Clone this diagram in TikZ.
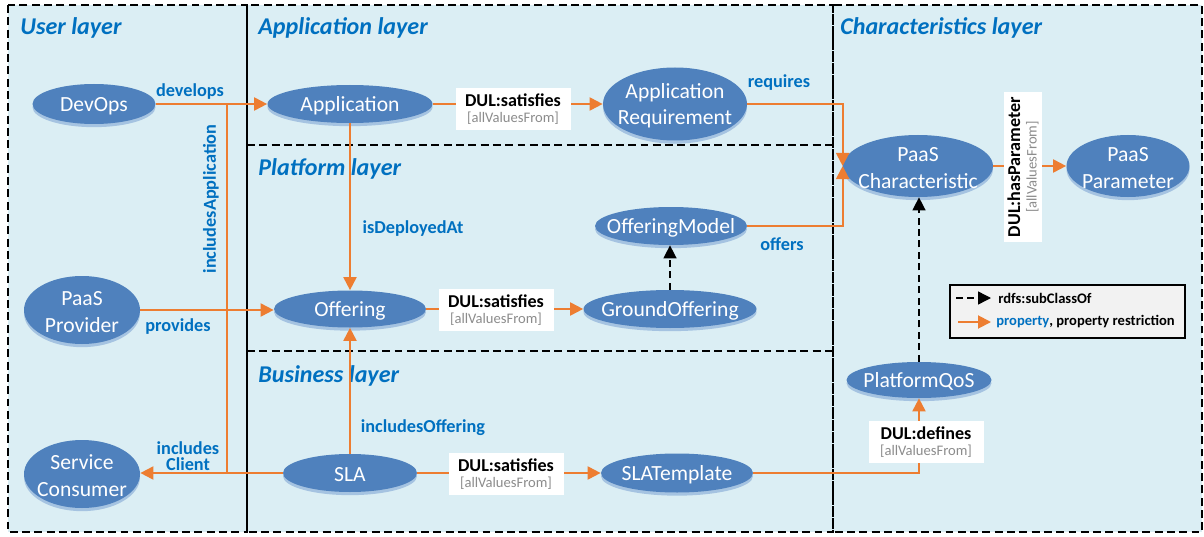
\documentclass[tikz,border=0pt]{standalone}
\usepackage{fontspec}
\setmainfont{Carlito}
\usetikzlibrary{arrows.meta,shapes.geometric,shadows}
\definecolor{bgblue}{RGB}{219,238,244}
\definecolor{nodeblue}{RGB}{79,129,189}
\definecolor{shblue}{RGB}{165,195,225}
\definecolor{lblblue}{RGB}{0,112,192}
\definecolor{orng}{RGB}{237,125,49}
\definecolor{gtext}{RGB}{140,140,140}
\definecolor{legbg}{RGB}{242,242,242}
\newcommand{\rlab}[1]{{\bfseries\fontsize{10.3}{11}\selectfont #1}\\[-2.5pt]{\fontsize{8.3}{9}\selectfont\color{gtext}[allValuesFrom]}}
\begin{document}
\begin{tikzpicture}[x=0.02cm,y=-0.02cm,
  cls/.style={ellipse, fill=nodeblue, inner sep=0pt,
    drop shadow={shadow xshift=0pt, shadow yshift=-1.8pt, fill=shblue, opacity=1}},
  ctext/.style={text=white, align=center, inner sep=0pt, yshift=-1pt, font=\fontsize{12.3}{15.3}\selectfont},
  prop/.style={draw=orng, line width=1.1pt, -{Triangle[length=7.4pt,width=7.4pt]}},
  propline/.style={draw=orng, line width=1.1pt},
  sub/.style={draw=black, line width=0.8pt, dash pattern=on 4pt off 2.5pt, -{Triangle[length=7.4pt,width=7.4pt]}},
  rel/.style={text=lblblue, inner sep=0pt, align=center, font=\bfseries\fontsize{10.4}{9.2}\selectfont},
  rbox/.style={fill=white, inner sep=0pt, minimum width=115*0.02cm, minimum height=42*0.02cm, align=center},
  ttl/.style={anchor=west, inner sep=0pt, text=lblblue, font=\bfseries\itshape\fontsize{13.7}{16}\selectfont},
  region/.style={draw=black, line width=0.7pt, dash pattern=on 4.5pt off 2.5pt},
  legtext/.style={anchor=west, inner sep=0pt, font=\bfseries\fontsize{8.3}{10}\selectfont}
]
\useasboundingbox (0,0) rectangle (1204,537);
% background and regions
\fill[bgblue] (8,5) rectangle (1202,532);
\draw[region] (8,5) rectangle (247,532);
\draw[region] (247,5) rectangle (833,532);
\draw[region] (833,5) rectangle (1202,532);
\draw[region] (247,145) -- (833,145);
\draw[region] (247,351) -- (833,351);
% titles
\node[ttl] (tuser) at (20,28) {User layer};
\node[ttl] (tapp) at (258,28) {Application layer};
\node[ttl] (tplat) at (258,169) {Platform layer};
\node[ttl] (tbus) at (258,376) {Business layer};
\node[ttl] (tchar) at (840,28) {Characteristics layer};
% nodes
\node[cls, minimum width=123*0.02cm, minimum height=40*0.02cm, label={[ctext]center:DevOps}] (devops) at (94,104) {};
\node[cls, minimum width=116*0.02cm, minimum height=68*0.02cm, label={[ctext]center:PaaS\\Provider}] (prov) at (82,310) {};
\node[cls, minimum width=116*0.02cm, minimum height=68*0.02cm, label={[ctext]center:Service\\Consumer}] (sc) at (82,474) {};
\node[cls, minimum width=165*0.02cm, minimum height=38*0.02cm, label={[ctext]center:Application}] (app) at (350,104) {};
\node[cls, minimum width=144*0.02cm, minimum height=73*0.02cm, label={[ctext]center:Application\\Requirement}] (appreq) at (675,104) {};
\node[cls, minimum width=152*0.02cm, minimum height=37*0.02cm, label={[ctext]center:Offering}] (off) at (350,309) {};
\node[cls, minimum width=152*0.02cm, minimum height=38*0.02cm, label={[ctext]center:OfferingModel}] (om) at (671,226) {};
\node[cls, minimum width=173*0.02cm, minimum height=38*0.02cm, label={[ctext]center:GroundOffering}] (go) at (670,309) {};
\node[cls, minimum width=134*0.02cm, minimum height=38*0.02cm, label={[ctext]center:SLA}] (sla) at (350,473) {};
\node[cls, minimum width=152*0.02cm, minimum height=39*0.02cm, label={[ctext]center:SLATemplate}] (slat) at (677,473) {};
\node[cls, minimum width=150*0.02cm, minimum height=62*0.02cm, label={[ctext]center:PaaS\\Characteristic}] (pc) at (918,166) {};
\node[cls, minimum width=123*0.02cm, minimum height=62*0.02cm, label={[ctext]center:PaaS\\Parameter}] (ppar) at (1128,166) {};
\node[cls, minimum width=145*0.02cm, minimum height=36*0.02cm, label={[ctext]center:PlatformQoS}] (qos) at (919,380) {};
% junctions
\coordinate (j1) at (227,473);
\coordinate (j2) at (227,104);
% connectors
\draw[prop] (devops.east) -- (app.west);
\draw[propline] (j1) -- (j2);
\draw[prop] (prov.east) -- (prov.east -| off.west);
\draw[prop] (sla.west) -- (sla.west -| sc.east);
\draw[prop] (app.east) -- (appreq.west);
\draw[prop] (app.south) -- (off.north);
\draw[prop] (off.east) -- (go.west);
\draw[sub] (go.north) -- (go.north |- om.south);
\draw[prop] (om.east) -| (pc.west);
\draw[prop] (appreq.east) -| (pc.west);
\draw[prop] (pc.east) -- (ppar.west);
\draw[sub] (qos.north) -- (qos.north |- pc.south);
\draw[prop] (sla.north) -- (off.south);
\draw[prop] (sla.east) -- (slat.west);
\draw[prop] (slat.east) -| (qos.south);
% relation labels
\node[rel] (ldev) at (190,92) {develops};
\node[rel] (lprov) at (178,327) {provides};
\node[rel] (lcli) at (188,456) {includes\\Client};
\node[rel, rotate=90] (lincapp) at (211,199) {includesApplication};
\node[rel] (ldep) at (413,229) {isDeployedAt};
\node[rel] (lincoff) at (423,428) {includesOffering};
\node[rel] (lreq) at (779,83) {requires};
\node[rel] (loff) at (782,244) {offers};
% restriction boxes
\node[rbox] (b1) at (513,109) {\rlab{DUL:satisfies}};
\node[rbox] (b2) at (496,310) {\rlab{DUL:satisfies}};
\node[rbox] (b3) at (506,474) {\rlab{DUL:satisfies}};
\node[rbox] (b4) at (926,442) {\rlab{DUL:defines}};
\node[rbox, rotate=90, minimum width=149*0.02cm, minimum height=38*0.02cm] (b5) at (1023,167) {\rlab{DUL:hasParameter}};
% legend
\node[draw=black, line width=0.7pt, fill=legbg, minimum width=235*0.02cm, minimum height=53*0.02cm, inner sep=0pt] (leg) at (1067.5,311.5) {};
\coordinate (l1a) at (956,298);
\coordinate (l1b) at (991,298);
\coordinate (l2a) at (958,322);
\coordinate (l2b) at (991,322);
\draw[sub] (l1a) -- (l1b);
\draw[prop] (l2a) -- (l2b);
\node[legtext] (lt1) at (998,298) {rdfs:subClassOf};
\node[legtext] (lt2) at (996,322) {\textcolor{lblblue}{property}, property restriction};
\end{tikzpicture}
\end{document}
